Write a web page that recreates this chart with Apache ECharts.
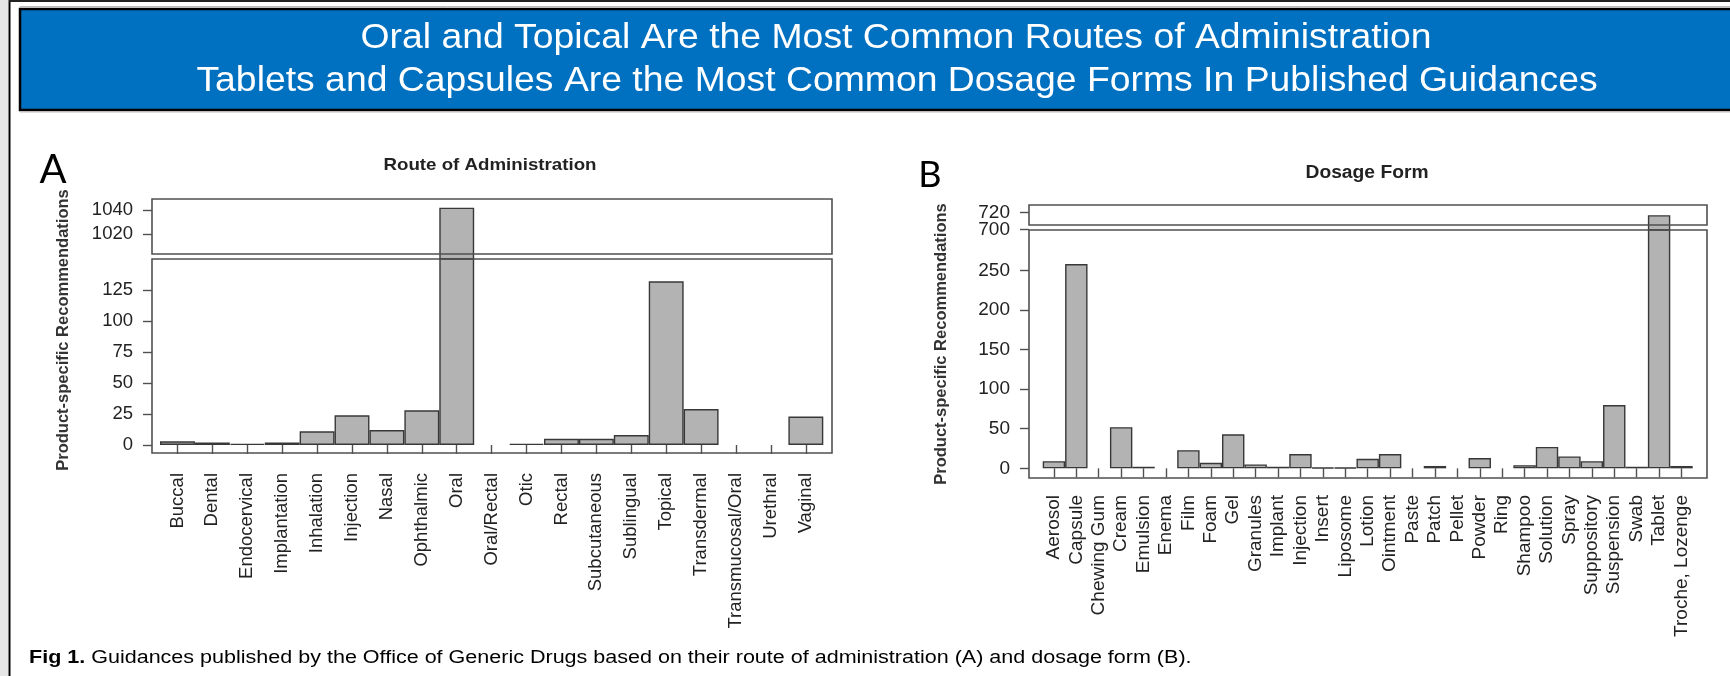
<!DOCTYPE html>
<html>
<head>
<meta charset="utf-8">
<script src="https://cdn.jsdelivr.net/npm/echarts@6/dist/echarts.min.js"></script>
<style>
  html, body { margin: 0; padding: 0; background: #ffffff; }
  #chart { width: 1730px; height: 676px; }
</style>
</head>
<body>
<div id="chart"></div>
<script>
// Guidance counts by route of administration (panel A)
const routeCategories = ['Buccal', 'Dental', 'Endocervical', 'Implantation', 'Inhalation', 'Injection',
  'Nasal', 'Ophthalmic', 'Oral', 'Oral/Rectal', 'Otic', 'Rectal', 'Subcutaneous', 'Sublingual',
  'Topical', 'Transdermal', 'Transmucosal/Oral', 'Urethral', 'Vaginal'];
const routeValues = [3, 2, 1, 2, 11, 24, 12, 28, 1042, 0, 1, 5, 5, 8, 132, 29, 0, 0, 23];

// Guidance counts by dosage form (panel B)
const formCategories = ['Aerosol', 'Capsule', 'Chewing Gum', 'Cream', 'Emulsion', 'Enema', 'Film',
  'Foam', 'Gel', 'Granules', 'Implant', 'Injection', 'Insert', 'Liposome', 'Lotion', 'Ointment',
  'Paste', 'Patch', 'Pellet', 'Powder', 'Ring', 'Shampoo', 'Solution', 'Spray', 'Suppository',
  'Suspension', 'Swab', 'Tablet', 'Troche, Lozenge'];
const formValues = [9, 258, 0, 52, 2, 0, 23, 7, 43, 5, 2, 18, 1, 1, 12, 18, 0, 3, 0, 13, 0, 4,
  27, 15, 9, 80, 2, 717, 3];

// Tick labels of the broken value axes
const routeUpperTicks = [1020, 1040];
const routeLowerTicks = [0, 25, 50, 75, 100, 125];
const formUpperTicks = [700, 720];
const formLowerTicks = [0, 50, 100, 150, 200, 250];

// Axis ranges of the two halves of each broken axis
const routeUpperRange = [999.2, 1049.2];
const routeLowerRange = [-6.45, 150];
const formUpperRange = [699.2, 729.3];
const formLowerRange = [-12.2, 301];

const FONT = '"Liberation Sans", Arial, sans-serif';
const INK = '#222';
const FRAME = '#505050';

const chart = echarts.init(document.getElementById('chart'), null, { renderer: 'canvas' });

// Panel layout: bars sit inside a slightly wider framed box
const panels = {
  A: { frameLeft: 152, frameWidth: 680, barLeft: 160, barWidth: 663.3,
       upperTop: 199, upperFrameH: 55, lowerTop: 259, lowerH: 194,
       labelSize: 18.5, labelMargin: 20, tickSize: 18.5 },
  B: { frameLeft: 1029, frameWidth: 678, barLeft: 1042.7, barWidth: 650,
       upperTop: 205, upperFrameH: 20, lowerTop: 230, lowerH: 248,
       labelSize: 19, labelMargin: 17, tickSize: 19 }
};

function barData(values) {
  // empty categories get no outline so nothing shows at the baseline
  return values.map(v => ({ value: v, itemStyle: { borderWidth: v === 0 ? 0 : 1.4 } }));
}

const grids = [], xAxes = [], yAxes = [], series = [];

function addPanel(p, cats, vals, upperTicks, lowerTicks, upperRange, lowerRange) {
  const offset = p.barLeft - p.frameLeft;
  const tickStyle = { show: true, length: 9, lineStyle: { color: FRAME, width: 1.4 } };
  const yLabel = { color: INK, fontFamily: FONT, fontSize: p.tickSize, margin: 19,
    showMinLabel: true, showMaxLabel: true, formatter: v => String(v) };
  const barStyle = { type: 'bar', barCategoryGap: '0%', clip: true, silent: true, animation: false,
    itemStyle: { color: '#b3b3b3', borderColor: '#383838', borderWidth: 1.4 } };

  // upper (broken-off) part, reaching down to the lower box so tall bars run through the gap
  const gUp = grids.length;
  grids.push({ left: p.barLeft, top: p.upperTop, width: p.barWidth, height: p.lowerTop - p.upperTop, show: false });
  const xUp = xAxes.length;
  xAxes.push({ gridIndex: gUp, type: 'category', data: cats, show: false });
  // one axis per upper tick so close labels are never culled
  const yUp = yAxes.length;
  upperTicks.forEach(t => {
    yAxes.push({ gridIndex: gUp, type: 'value', position: 'left', min: upperRange[0], max: upperRange[1], offset: offset,
      axisLine: { show: false }, splitLine: { show: false },
      axisTick: Object.assign({ customValues: [t] }, tickStyle),
      axisLabel: Object.assign({ customValues: [t] }, yLabel) });
  });
  series.push(Object.assign({ xAxisIndex: xUp, yAxisIndex: yUp, data: barData(vals) }, barStyle));

  // lower part with the category labels
  const gLow = grids.length;
  grids.push({ left: p.barLeft, top: p.lowerTop, width: p.barWidth, height: p.lowerH, show: false });
  const xLow = xAxes.length;
  xAxes.push({ gridIndex: gLow, type: 'category', position: 'bottom', data: cats,
    axisLine: { show: false },
    axisTick: Object.assign({ alignWithLabel: true, interval: 0 }, tickStyle),
    axisLabel: { rotate: 90, interval: 0, margin: p.labelMargin, color: INK, fontFamily: FONT, fontSize: p.labelSize } });
  const yLow = yAxes.length;
  yAxes.push({ gridIndex: gLow, type: 'value', position: 'left', min: lowerRange[0], max: lowerRange[1], offset: offset,
    axisLine: { show: false }, splitLine: { show: false },
    axisTick: Object.assign({ customValues: lowerTicks }, tickStyle),
    axisLabel: Object.assign({ customValues: lowerTicks }, yLabel) });
  series.push(Object.assign({ xAxisIndex: xLow, yAxisIndex: yLow, data: barData(vals) }, barStyle));

  // frames drawn above the bars
  [[p.upperTop, p.upperFrameH], [p.lowerTop, p.lowerH]].forEach(([top, h]) => {
    const g = grids.length;
    grids.push({ left: p.frameLeft, top: top, width: p.frameWidth, height: h,
      show: true, z: 5, backgroundColor: 'transparent', borderColor: FRAME, borderWidth: 1.6 });
    xAxes.push({ gridIndex: g, type: 'value', show: false, min: 0, max: 1 });
    yAxes.push({ gridIndex: g, type: 'value', show: false, min: 0, max: 1 });
  });
}

addPanel(panels.A, routeCategories, routeValues, routeUpperTicks, routeLowerTicks, routeUpperRange, routeLowerRange);
addPanel(panels.B, formCategories, formValues, formUpperTicks, formLowerTicks, formUpperRange, formLowerRange);

function label(text, x, y, size, opts) {
  return Object.assign({
    type: 'text', x: x, y: y, silent: true, z: 10,
    style: Object.assign({ text: text, fontFamily: FONT, fontSize: size, fill: INK,
      textAlign: 'center', textVerticalAlign: 'middle' }, (opts && opts.style) || {})
  }, (opts && opts.el) || {});
}

const graphics = [
  // page edge and banner
  { type: 'rect', silent: true, z: 0, shape: { x: 0, y: 0, width: 8, height: 676 }, style: { fill: '#e6e6e6' } },
  { type: 'line', silent: true, z: 1, shape: { x1: 9.5, y1: 0, x2: 9.5, y2: 676 }, style: { stroke: '#000', lineWidth: 2 } },
  { type: 'line', silent: true, z: 1, shape: { x1: 9, y1: 1, x2: 1730, y2: 1 }, style: { stroke: '#222', lineWidth: 2 } },
  { type: 'line', silent: true, z: 1, shape: { x1: 20, y1: 6.5, x2: 1730, y2: 6.5 }, style: { stroke: '#bbbbbb', lineWidth: 1 } },
  { type: 'rect', silent: true, z: 1, shape: { x: 20, y: 9, width: 1730, height: 101 },
    style: { fill: '#0070c0', stroke: '#000', lineWidth: 2.5 } },
  { type: 'line', silent: true, z: 1, shape: { x1: 20, y1: 112, x2: 1730, y2: 112 }, style: { stroke: '#bbbbbb', lineWidth: 1 } },
  label('Oral and Topical Are the Most Common Routes of Administration', 896, 38.5, 35.5,
    { style: { fill: '#ffffff' }, el: { scaleX: 1.052 } }),
  label('Tablets and Capsules Are the Most Common Dosage Forms In Published Guidances', 897, 81, 35.5,
    { style: { fill: '#ffffff' }, el: { scaleX: 1.052 } }),

  // panel letters
  label('A', 53, 170, 40, { style: { fontFamily: 'Lato, "Open Sans", sans-serif', fill: '#000' } }),
  label('B', 930, 175, 36, { style: { fontFamily: 'Lato, "Open Sans", sans-serif', fill: '#000' } }),

  // panel titles
  label('Route of Administration', 490, 165, 17, { style: { fontWeight: 'bold' }, el: { scaleX: 1.1 } }),
  label('Dosage Form', 1367, 173, 17.5, { style: { fontWeight: 'bold' }, el: { scaleX: 1.1 } }),

  // value axis titles
  label('Product-specific Recommendations', 63, 330, 16.5, { style: { fontWeight: 'bold', fill: '#333' }, el: { rotation: Math.PI / 2 } }),
  label('Product-specific Recommendations', 941, 344, 16.5, { style: { fontWeight: 'bold', fill: '#333' }, el: { rotation: Math.PI / 2 } }),

  // caption
  { type: 'text', x: 29, y: 658, scaleX: 1.23, silent: true, z: 10,
    style: { text: '{b|Fig 1.} Guidances published by the Office of Generic Drugs based on their route of administration (A) and dosage form (B).',
      fontFamily: FONT, fontSize: 17.5, fill: '#000', textAlign: 'left', textVerticalAlign: 'middle',
      rich: { b: { fontWeight: 'bold', fontFamily: FONT, fontSize: 17.5, fill: '#000' } } } }
];

chart.setOption({
  animation: false,
  backgroundColor: '#ffffff',
  grid: grids,
  xAxis: xAxes,
  yAxis: yAxes,
  series: series,
  graphic: graphics
});
</script>
</body>
</html>
